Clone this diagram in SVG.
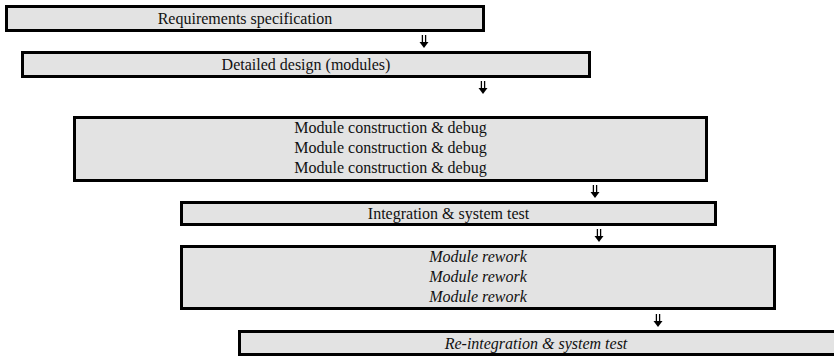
<svg xmlns="http://www.w3.org/2000/svg" width="834" height="357" viewBox="0 0 834 357">
<style>
.box{fill:#e3e3e3;stroke:#000;stroke-width:3}
.t{font-family:"Liberation Serif","Times New Roman",serif;font-size:16px;fill:#111;text-anchor:middle}
.i{font-style:italic}
.shaft{stroke:#000;stroke-width:1.3;fill:none}
.head{fill:#000}
</style>
<defs>
<g id="arr">
<line class="shaft" x1="-1.6" y1="0" x2="-1.6" y2="8"/>
<line class="shaft" x1="1.6" y1="0" x2="1.6" y2="8"/>
<path class="head" d="M-4.5,7 L4.5,7 L0,13 Z"/>
</g>
</defs>
<g id="connectors">
<use href="#arr" x="424" y="35"/>
<use href="#arr" x="483" y="81"/>
<use href="#arr" x="595" y="185"/>
<use href="#arr" x="599" y="229"/>
<use href="#arr" x="658" y="314"/>
</g>
<g id="n1">
<rect class="box" x="6.5" y="6.5" width="477" height="24"/>
<text class="t" x="245" y="24">Requirements specification</text>
</g>
<g id="n2">
<rect class="box" x="22.5" y="52.5" width="567" height="24"/>
<text class="t" x="306" y="70">Detailed design (modules)</text>
</g>
<g id="n3">
<rect class="box" x="74.5" y="117.5" width="632" height="63"/>
<text class="t" x="390.5" y="133">Module construction &amp; debug</text>
<text class="t" x="390.5" y="153">Module construction &amp; debug</text>
<text class="t" x="390.5" y="173">Module construction &amp; debug</text>
</g>
<g id="n4">
<rect class="box" x="181.5" y="202.5" width="534" height="22"/>
<text class="t" x="448.5" y="219">Integration &amp; system test</text>
</g>
<g id="n5">
<rect class="box" x="181.5" y="246.5" width="593" height="62"/>
<text class="t i" x="478" y="262">Module rework</text>
<text class="t i" x="478" y="282">Module rework</text>
<text class="t i" x="478" y="302">Module rework</text>
</g>
<g id="n6">
<rect class="box" x="239.5" y="331.5" width="600" height="23"/>
<text class="t i" x="536" y="348.5">Re-integration &amp; system test</text>
</g>
</svg>
